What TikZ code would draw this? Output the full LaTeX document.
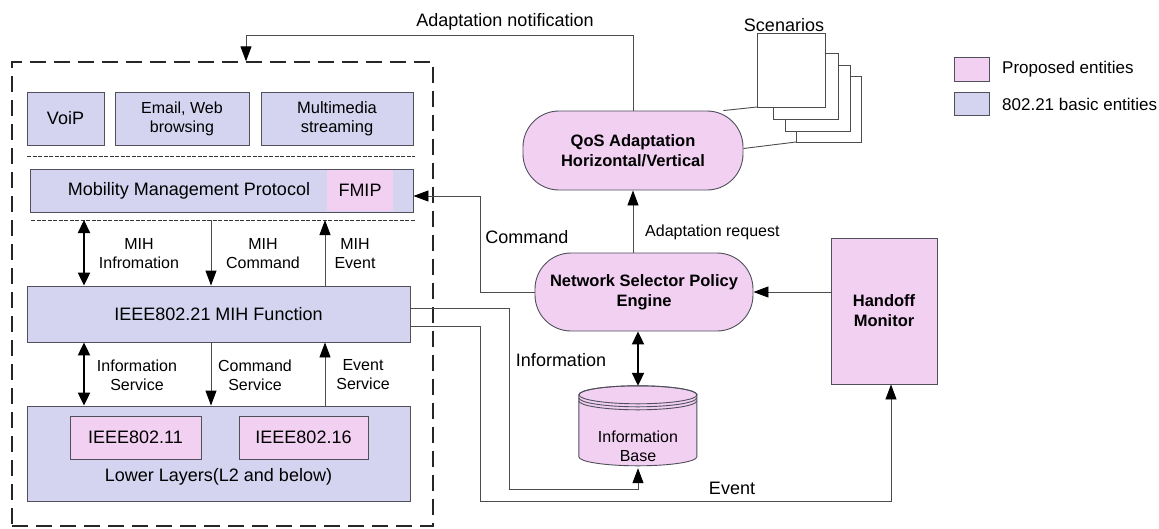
\documentclass[tikz,border=0pt]{standalone}
\usepackage{fontspec}
\setmainfont{Liberation Sans}
\usetikzlibrary{arrows.meta,calc}
\definecolor{pinkc}{RGB}{242,208,242}
\definecolor{bluec}{RGB}{212,212,240}
\definecolor{edgec}{RGB}{80,80,92}
\begin{document}
\begin{tikzpicture}[x=1pt,y=-1pt,
  basebox/.style={draw=edgec, line width=0.9pt, inner sep=0pt, align=center, font=\fontsize{18}{20}\selectfont},
  bluebox/.style={basebox, fill=bluec},
  pinkbox/.style={basebox, fill=pinkc},
  stadium/.style={pinkbox, rounded corners=36pt, font=\bfseries\fontsize{16.5}{20}\selectfont},
  lbl/.style={font=\fontsize{16}{19}\selectfont, align=center, inner sep=0pt},
  biglbl/.style={font=\fontsize{18}{20}\selectfont, align=center, inner sep=0pt},
  conn/.style={draw=black!70, line width=0.9pt},
  arr/.style={conn, -{Triangle[length=15pt,width=11pt,color=black]}},
  darr/.style={draw=black, line width=2.2pt, {Triangle[length=13pt,width=12pt]}-{Triangle[length=13pt,width=12pt]}},
  sepline/.style={draw=black!80, line width=0.8pt, dash pattern=on 4pt off 1.5pt},
  page/.style={draw=black!70, line width=0.9pt, fill=white}
]
\useasboundingbox (0,0) rectangle (1159,528);

% outer dashed frame
\node[draw=black!85, line width=1.3pt, dash pattern=on 16pt off 8pt, minimum width=421pt, minimum height=464pt, inner sep=0pt] (outer) at (222.5,294) {};

% applications
\node[bluebox, minimum width=77pt, minimum height=53pt] (voip) at (65.5,118.5) {VoiP};
\node[bluebox, minimum width=134pt, minimum height=53pt, font=\fontsize{16}{19}\selectfont] (email) at (182,118.5) {Email, Web\\browsing};
\node[bluebox, minimum width=152pt, minimum height=53pt, font=\fontsize{16.5}{19}\selectfont] (multi) at (337,118.5) {Multimedia\\streaming};

\coordinate (s1L) at (27,156); \coordinate (s1R) at (415,156);
\draw[sepline] (s1L) -- (s1R);

% mobility management protocol
\node[bluebox, minimum width=383pt, minimum height=43pt] (mmp) at (221.5,190.5) {};
\node[fill=pinkc, minimum width=66pt, minimum height=41pt, inner sep=0pt, font=\fontsize{18}{20}\selectfont] (fmip) at (360,190.5) {FMIP};
\node[biglbl] (mmptext) at (189,191) {Mobility Management Protocol};

\coordinate (s2L) at (31,220); \coordinate (s2R) at (415,220);
\draw[sepline] (s2L) -- (s2R);

% MIH function and lower layers
\node[bluebox, minimum width=383pt, minimum height=56pt] (mih) at (218.5,314) {IEEE802.21 MIH Function};
\node[bluebox, minimum width=383pt, minimum height=95pt] (ll) at (218.5,453.5) {};
\node[pinkbox, minimum width=131pt, minimum height=43pt] (w11) at (135.5,437.5) {IEEE802.11};
\node[pinkbox, minimum width=129pt, minimum height=43pt] (w16) at (303.5,437.5) {IEEE802.16};
\node[biglbl] (lltext) at (218.5,477) {Lower Layers(L2 and below)};

% MIH SAP arrows
\coordinate (m1) at (84,220); \coordinate (m2) at (211,220); \coordinate (m3) at (325,220);
\draw[darr] (m1) -- (m1 |- mih.north);
\draw[arr] (m2) -- (m2 |- mih.north);
\draw[arr] (m3 |- mih.north) -- (m3);
\node[lbl] (lmi) at (139,254) {MIH\\Infromation};
\node[lbl] (lmc) at (263,254) {MIH\\Command};
\node[lbl] (lme) at (355,254) {MIH\\Event};

\draw[darr] (m1 |- mih.south) -- (m1 |- ll.north);
\draw[arr] (m2 |- mih.south) -- (m2 |- ll.north);
\draw[arr] (m3 |- ll.north) -- (m3 |- mih.south);
\node[lbl] (lis) at (137,375) {Information\\Service};
\node[lbl] (lcs) at (255,375) {Command\\Service};
\node[lbl] (les) at (363,375) {Event\\Service};

% right side entities
\node[stadium, minimum width=220pt, minimum height=79pt] (qos) at (633,150.5) {QoS Adaptation\\Horizontal/Vertical};
\node[stadium, minimum width=218pt, minimum height=78pt] (nspe) at (644,292) {Network Selector Policy\\Engine};
\node[pinkbox, minimum width=106pt, minimum height=146pt, font=\bfseries\fontsize{16.5}{20}\selectfont] (ho) at (884,311) {Handoff\\Monitor};

% information base (cylinder)
\node[minimum width=118pt, minimum height=82pt, inner sep=0pt] (ib) at (638,427) {};
\filldraw[draw=edgec, line width=0.9pt, fill=pinkc] (ib.north west) ++(0,9) -- ++(0,62)
  arc[start angle=180, end angle=0, x radius=59, y radius=9] -- ++(0,-62)
  arc[start angle=0, end angle=-180, x radius=59, y radius=9] -- cycle;
\draw[draw=edgec, line width=0.9pt] (ib.north) ++(0,9) ellipse[x radius=59, y radius=9];
\draw[draw=edgec, line width=0.9pt] (ib.north west) ++(0,12) arc[start angle=180, end angle=0, x radius=59, y radius=9];
\draw[draw=edgec, line width=0.9pt] (ib.north west) ++(0,15) arc[start angle=180, end angle=0, x radius=59, y radius=9];
\node[lbl] (ibtext) at (638,446) {Information\\Base};

% scenarios
\coordinate (p4a) at (796,76); \coordinate (p4b) at (861,142);
\coordinate (p3a) at (785,65); \coordinate (p3b) at (850,131);
\coordinate (p2a) at (773,53); \coordinate (p2b) at (838,119);
\coordinate (p1a) at (757,33); \coordinate (p1b) at (825,107);
\draw[page] (p4a) rectangle (p4b);
\draw[page] (p3a) rectangle (p3b);
\draw[page] (p2a) rectangle (p2b);
\draw[page] (p1a) rectangle (p1b);
\node[biglbl] (scen) at (784,25) {Scenarios};
\draw[conn] (qos.north east) ++(-20,0) -- (p1a |- p1b);
\draw[conn] (qos.east) ++(0,-2) -- (p4a |- p4b);

% connectors
\coordinate (an) at (246,35);
\draw[arr] (qos.north) |- (an) -- (an |- outer.north);
\node[biglbl] (lan) at (505,22) {Adaptation notification};

\draw[arr] (nspe.north -| qos.south) -- (qos.south);
\node[lbl, anchor=west] (lar) at (645,232) {Adaptation request};

\coordinate (cm) at (480,196);
\draw[arr] (nspe.west) -| (cm) -- (cm -| mmp.east);
\node[biglbl] (lcm) at (527,237) {Command};

\draw[arr] (ho.west |- nspe.east) -- (nspe.east);

\draw[darr, line width=2pt] (nspe.south -| ib.north) -- (ib.north);
\node[biglbl] (linf) at (561,360) {Information};

\coordinate (i1) at (509,308); \coordinate (i2) at (509,489);
\draw[arr] (mih.east |- i1) -- (i1) -- (i2) -| (ib.south);

\coordinate (e1) at (480,326); \coordinate (e2) at (480,501);
\draw[arr] (mih.east |- e1) -- (e1) -- (e2) -| (ho.south -| 891,0);
\node[biglbl] (lev) at (732,488) {Event};

% legend
\node[pinkbox, minimum width=35pt, minimum height=24pt] (lgp) at (971.5,69) {};
\node[bluebox, minimum width=35pt, minimum height=23pt] (lgb) at (971.5,103.5) {};
\node[font=\fontsize{17}{20}\selectfont, anchor=west, inner sep=0pt] (lgpt) at (1002,69) {Proposed entities};
\node[font=\fontsize{17}{20}\selectfont, anchor=west, inner sep=0pt] (lgbt) at (1002,104) {802.21 basic entities};
\end{tikzpicture}
\end{document}
